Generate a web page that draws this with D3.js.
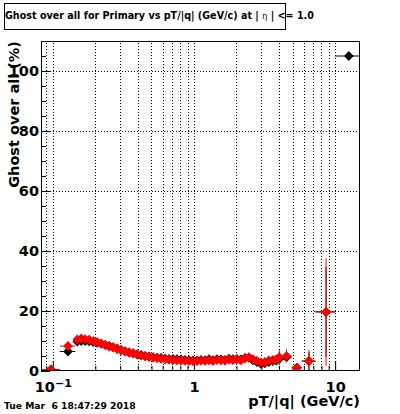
<!DOCTYPE html>
<html>
<head>
<meta charset="utf-8">
<script src="https://cdn.jsdelivr.net/npm/d3@7"></script>
<style>
  body { margin: 0; background: #fff; }
  text { font-family: 'DejaVu Sans', sans-serif; font-weight: bold; }
</style>
</head>
<body>
<div id="vis"></div>
<script>
// bin edges in pT/|q| (GeV/c)
const binEdges = [0.0825, 0.112, 0.144,
    0.154, 0.164, 0.175, 0.187, 0.200, 0.213, 0.228, 0.243, 0.259, 0.276,
    0.295, 0.315, 0.336, 0.359, 0.383, 0.409, 0.436, 0.465, 0.497, 0.530,
    0.566, 0.604, 0.645, 0.688, 0.734, 0.783, 0.836, 0.892, 0.952, 1.016,
    1.085, 1.158, 1.236, 1.319, 1.407, 1.502, 1.603, 1.711, 1.826, 1.949,
    2.080, 2.220, 2.369, 2.528, 2.698, 2.880, 3.073, 3.280, 3.501, 3.736,
    3.924, 4.12, 4.93, 5.80, 7.25, 10, 15];

// black histogram (%)
const ghostBlack = [0.5, 6.5,
    9.8, 10.0, 10.0, 9.9, 9.7, 9.4, 9.1, 8.7, 8.3, 7.9,
    7.5, 7.0, 6.6, 6.2, 5.9, 5.6, 5.3, 5.0, 4.8, 4.6,
    4.4, 4.3, 4.1, 4.0, 4.0, 3.9, 3.8, 3.7, 3.6, 3.5,
    3.5, 3.7, 3.6, 3.9, 3.6, 3.9, 3.8, 3.7, 4.1, 3.9,
    4.0, 3.8, 4.3, 4.4, 3.6, 3.0, 2.4, 2.6, 3.0, 3.3,
    3.5, 4.0, 4.6, 1.1, 3.3, 19.7, 105];
const errBlack = [0.4, 0.5,
    0.3, 0.3, 0.3, 0.3, 0.3, 0.3, 0.3, 0.3, 0.3, 0.3,
    0.3, 0.3, 0.3, 0.3, 0.3, 0.3, 0.3, 0.3, 0.3, 0.3,
    0.3, 0.3, 0.3, 0.3, 0.3, 0.3, 0.3, 0.3, 0.3, 0.3,
    0.3, 0.3, 0.3, 0.3, 0.3, 0.4, 0.4, 0.4, 0.4, 0.4,
    0.4, 0.4, 0.5, 0.5, 0.5, 0.5, 0.5, 0.6, 0.6, 0.7,
    1.0, 1.2, 1.5, 1.0, 3.0, 15, 0];

// red histogram (%)
const ghostRed = [0.5, 8.3,
    10.5, 10.8, 10.6, 10.4, 10.0, 9.6, 9.2, 8.7, 8.2, 7.8,
    7.3, 6.9, 6.5, 6.1, 5.8, 5.5, 5.2, 4.9, 4.7, 4.5,
    4.3, 4.1, 4.0, 3.8, 3.7, 3.6, 3.5, 3.4, 3.3, 3.3,
    3.3, 3.5, 3.4, 3.6, 3.3, 3.7, 3.6, 3.5, 3.8, 3.7,
    3.9, 3.6, 4.2, 4.6, 3.9, 3.4, 2.8, 3.0, 3.5, 3.7,
    3.9, 4.6, 5.0, 1.1, 3.3, 19.7, null];
const errRed = [0.5, 0.6,
    0.3, 0.3, 0.3, 0.3, 0.3, 0.3, 0.3, 0.3, 0.3, 0.3,
    0.3, 0.3, 0.3, 0.3, 0.3, 0.3, 0.3, 0.3, 0.3, 0.3,
    0.3, 0.3, 0.3, 0.3, 0.3, 0.3, 0.3, 0.3, 0.3, 0.3,
    0.3, 0.3, 0.3, 0.4, 0.4, 0.4, 0.4, 0.4, 0.5, 0.5,
    0.5, 0.5, 0.6, 0.6, 0.6, 0.6, 0.7, 0.7, 0.8, 0.9,
    1.2, 2.5, 2.2, 1.1, 3.7, 17.9, 0];

const yMajorTicks = [0, 20, 40, 60, 80, 100];
const yMinorTicks = d3.range(0, 111, 5);
const xMajorTicks = [0.1, 1, 10];
const xMinorTicks = [0.09, 0.2, 0.3, 0.4, 0.5, 0.6, 0.7, 0.8, 0.9,
    2, 3, 4, 5, 6, 7, 8, 9];

const width = 400;
const height = 414;
const margin = { top: 41, right: 40, bottom: 43, left: 41 };

const x = d3.scaleLog()
    .domain([0.0825, 15])
    .range([margin.left, width - margin.right]);

const y = d3.scaleLinear()
    .domain([0, 110])
    .range([height - margin.bottom, margin.top]);

const svg = d3.select('#vis')
    .append('svg')
    .attr('width', width)
    .attr('height', height);

svg.append('defs').append('clipPath')
    .attr('id', 'frame')
    .append('rect')
    .attr('x', margin.left)
    .attr('y', margin.top)
    .attr('width', width - margin.left - margin.right)
    .attr('height', height - margin.top - margin.bottom);

// dotted grid
const grid = svg.append('g')
    .attr('stroke', '#000')
    .attr('stroke-width', 1)
    .attr('stroke-dasharray', '1,2');

grid.selectAll('line.gx')
    .data(xMinorTicks.concat(xMajorTicks))
    .join('line')
    .attr('class', 'gx')
    .attr('x1', d => Math.round(x(d)) + 0.5)
    .attr('x2', d => Math.round(x(d)) + 0.5)
    .attr('y1', y(0))
    .attr('y2', margin.top);

grid.selectAll('line.gy')
    .data(yMajorTicks.filter(d => d > 0))
    .join('line')
    .attr('class', 'gy')
    .attr('x1', margin.left)
    .attr('x2', width - margin.right)
    .attr('y1', d => Math.round(y(d)) + 0.5)
    .attr('y2', d => Math.round(y(d)) + 0.5);

// axes (ticks point into the frame)
const xAxisY = height - margin.bottom;
svg.append('g')
    .attr('transform', `translate(0, ${xAxisY})`)
    .call(d3.axisBottom(x).tickValues(xMinorTicks).tickSize(-5).tickFormat(''))
    .call(g => g.select('.domain').remove());

const xMajor = svg.append('g')
    .attr('transform', `translate(0, ${xAxisY})`)
    .call(d3.axisBottom(x).tickValues(xMajorTicks).tickSize(-10).tickPadding(11)
        .tickFormat(d => d === 0.1 ? '' : d3.format('d')(d)))
    .call(g => g.select('.domain').remove());

xMajor.selectAll('.tick text')
    .attr('font-size', '14.5px')
    .attr('font-family', null)
    .attr('fill', '#000')
    .each(function (d) {
        if (d !== 0.1) return;
        const t = d3.select(this);
        t.append('tspan').text('10');
        t.append('tspan').attr('dy', '-0.45em').attr('font-size', '11px').text('\u22121');
    });

svg.append('g')
    .attr('transform', `translate(${margin.left}, 0)`)
    .call(d3.axisLeft(y).tickValues(yMinorTicks).tickSize(-5).tickFormat(''))
    .call(g => g.select('.domain').remove());

const yMajor = svg.append('g')
    .attr('transform', `translate(${margin.left}, 0)`)
    .call(d3.axisLeft(y).tickValues(yMajorTicks).tickSize(-9).tickPadding(2))
    .call(g => g.select('.domain').remove());

yMajor.selectAll('.tick text')
    .attr('font-size', '14.5px')
    .attr('font-family', null)
    .attr('fill', '#000');

svg.selectAll('.tick line').attr('stroke', '#000');

// data
function rows(values, errs) {
    return values.map((v, i) => ({
        lo: binEdges[i],
        hi: binEdges[i + 1],
        x: (binEdges[i] + binEdges[i + 1]) / 2,
        v: v,
        e: errs[i]
    })).filter(d => d.v !== null);
}

const diamond = 'M0,-5L4.8,0L0,5L-4.8,0Z';

function drawSeries(data, color) {
    const g = svg.append('g').attr('clip-path', 'url(#frame)');
    g.selectAll('line.h')
        .data(data)
        .join('line')
        .attr('class', 'h')
        .attr('stroke', color)
        .attr('x1', d => x(d.lo))
        .attr('x2', d => x(d.hi))
        .attr('y1', d => y(d.v))
        .attr('y2', d => y(d.v));
    g.selectAll('line.v')
        .data(data)
        .join('line')
        .attr('class', 'v')
        .attr('stroke', color)
        .attr('x1', d => x(d.x))
        .attr('x2', d => x(d.x))
        .attr('y1', d => y(d.v - d.e))
        .attr('y2', d => y(d.v + d.e));
    g.selectAll('path')
        .data(data)
        .join('path')
        .attr('d', diamond)
        .attr('fill', color)
        .attr('transform', d => `translate(${x(d.x)}, ${y(d.v)})`);
}

drawSeries(rows(ghostBlack, errBlack), '#000');
drawSeries(rows(ghostRed, errRed), '#ff0000');

// frame
svg.append('rect')
    .attr('x', margin.left + 0.5)
    .attr('y', margin.top + 0.5)
    .attr('width', width - margin.left - margin.right - 1)
    .attr('height', height - margin.top - margin.bottom - 1)
    .attr('fill', 'none')
    .attr('stroke', '#000');

// axis titles
svg.append('text')
    .attr('text-anchor', 'end')
    .attr('x', width - margin.right)
    .attr('y', 406)
    .attr('font-size', '14.5px')
    .text('pT/|q| (GeV/c)');

svg.append('text')
    .attr('text-anchor', 'end')
    .attr('transform', 'translate(19, 41) rotate(-90)')
    .attr('font-size', '14.5px')
    .text('Ghost over all (%)');

// title box
svg.append('rect')
    .attr('x', 4.5)
    .attr('y', 3.5)
    .attr('width', 281)
    .attr('height', 26)
    .attr('fill', '#fff')
    .attr('stroke', '#000');

const title = svg.append('text')
    .attr('x', 5)
    .attr('y', 19)
    .attr('font-size', '9.6px');
title.append('tspan').text('Ghost over all for Primary vs pT/|q| (GeV/c) at | ');
title.append('tspan').attr('font-weight', 'normal').attr('font-size', '8px').text('\u03b7');
title.append('tspan').text(' | <= 1.0');

svg.append('text')
    .attr('x', 4)
    .attr('y', 409)
    .attr('font-size', '9.2px')
    .style('white-space', 'pre')
    .text('Tue Mar  6 18:47:29 2018');
</script>
</body>
</html>
